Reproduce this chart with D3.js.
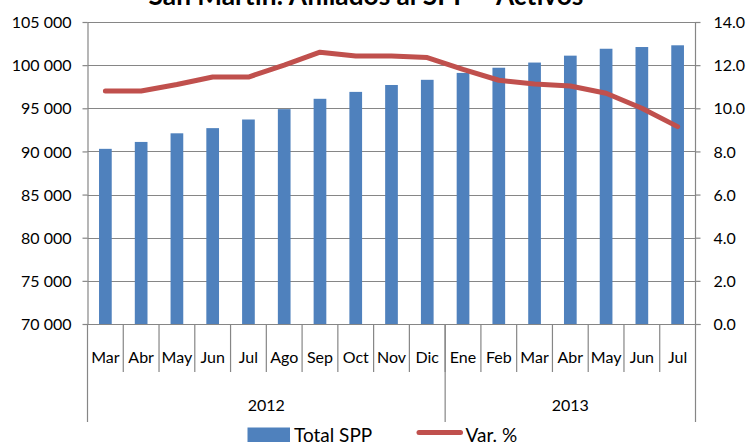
<!DOCTYPE html>
<html>
<head>
<meta charset="utf-8">
<script src="https://cdn.jsdelivr.net/npm/d3@7"></script>
<style>
  body { margin: 0; background: #fff; }
  #chart { width: 748px; height: 442px; }
  text { font-family: Lato, "Open Sans", sans-serif; fill: #000; }
</style>
</head>
<body>
<div id="chart"></div>
<script>
//Datos
const meses = ['Mar','Abr','May','Jun','Jul','Ago','Sep','Oct','Nov','Dic','Ene','Feb','Mar','Abr','May','Jun','Jul'];
const anios = ['2012','2012','2012','2012','2012','2012','2012','2012','2012','2012','2013','2013','2013','2013','2013','2013','2013'];
const totalSPP = [90300, 91100, 92100, 92700, 93700, 94900, 96100, 96900, 97700, 98300, 99100, 99700, 100300, 101100, 101900, 102100, 102300];
const varPct = [10.8, 10.8, 11.1, 11.45, 11.45, 12.0, 12.6, 12.42, 12.42, 12.35, 11.8, 11.3, 11.13, 11.03, 10.7, 10.0, 9.15];
const ticksIzq = [70000, 75000, 80000, 85000, 90000, 95000, 100000, 105000];
const ticksDer = [0, 2, 4, 6, 8, 10, 12, 14];

const COLOR_BARRA = '#4F81BD', COLOR_LINEA = '#C0504D', COLOR_EJE = '#868686';

let margin = {top: 22, right: 52.5, bottom: 118, left: 87.5},
    width = 748 - margin.left - margin.right,
    height = 442 - margin.top - margin.bottom;

let svg = d3.select('#chart').append('svg')
    .attr('width', 748).attr('height', 442);

let g = svg.append('g')
    .attr('transform', 'translate(' + margin.left + ',' + margin.top + ')');

let x = d3.scaleBand().domain(d3.range(meses.length)).range([0, width]).paddingInner(0).paddingOuter(0);
let y = d3.scaleLinear().domain([70000, 105000]).range([height, 0]);
let y2 = d3.scaleLinear().domain([0, 14]).range([height, 0]);

let fmt = d => d3.format(',')(d).replace(',', ' ');

//Rejilla
g.append('g').selectAll('line').data(ticksIzq.slice(1)).enter().append('line')
    .attr('x1', 0).attr('x2', width)
    .attr('y1', d => Math.round(y(d)) + 0.5).attr('y2', d => Math.round(y(d)) + 0.5)
    .attr('stroke', COLOR_EJE).attr('stroke-width', 1.2);

//Eje izquierdo
let ejeIzq = g.append('g').call(d3.axisLeft(y).tickValues(ticksIzq).tickFormat(fmt).tickSize(5).tickPadding(11));
ejeIzq.select('.domain').attr('stroke', COLOR_EJE).attr('stroke-width', 1.2).attr('d', 'M0.5,0V' + height);
ejeIzq.selectAll('.tick line').attr('stroke', COLOR_EJE).attr('stroke-width', 1.2);
ejeIzq.selectAll('text').style('font-size', '16px').attr('dy', '0.35em');

//Eje derecho
let ejeDer = g.append('g').attr('transform', 'translate(' + width + ',0)')
    .call(d3.axisRight(y2).tickValues(ticksDer).tickFormat(d3.format('.1f')).tickSize(5).tickPadding(13));
ejeDer.select('.domain').attr('stroke', COLOR_EJE).attr('stroke-width', 1.2).attr('d', 'M0,0V' + height);
ejeDer.selectAll('.tick line').attr('stroke', COLOR_EJE).attr('stroke-width', 1.2);
ejeDer.selectAll('text').style('font-size', '16px').attr('dy', '0.35em');

//Barras
let bw = x.bandwidth() * 0.355;
g.append('g').selectAll('rect').data(totalSPP).enter().append('rect')
    .attr('x', (d, i) => x(i) + x.bandwidth() / 2 - bw / 2)
    .attr('y', d => y(d))
    .attr('width', bw)
    .attr('height', d => height - y(d))
    .attr('fill', COLOR_BARRA);

//Línea
let linea = d3.line().x((d, i) => x(i) + x.bandwidth() / 2).y(d => y2(d));
g.append('path').datum(varPct)
    .attr('d', linea)
    .attr('fill', 'none').attr('stroke', COLOR_LINEA).attr('stroke-width', 5)
    .attr('stroke-linejoin', 'round').attr('stroke-linecap', 'round');

//Eje horizontal
g.append('line').attr('x1', 0).attr('x2', width + 5).attr('y1', height + 0.5).attr('y2', height + 0.5)
    .attr('stroke', COLOR_EJE).attr('stroke-width', 1.2);

let ejeX = g.append('g').attr('transform', 'translate(0,' + height + ')');
//separadores de meses
ejeX.selectAll('.sep').data(d3.range(1, meses.length)).enter().append('line')
    .attr('x1', i => x(i)).attr('x2', i => x(i))
    .attr('y1', 0).attr('y2', 48)
    .attr('stroke', COLOR_EJE).attr('stroke-width', 1.2);
//separadores de años
let cortes = [0, anios.indexOf('2013'), meses.length];
ejeX.selectAll('.sepAnio').data(cortes).enter().append('line')
    .attr('x1', i => i === meses.length ? width : x(i)).attr('x2', i => i === meses.length ? width : x(i))
    .attr('y1', 0).attr('y2', 98)
    .attr('stroke', COLOR_EJE).attr('stroke-width', 1.2);
ejeX.selectAll('.mes').data(meses).enter().append('text')
    .attr('x', (d, i) => x(i) + x.bandwidth() / 2).attr('y', 39)
    .attr('text-anchor', 'middle').style('font-size', '16px')
    .text(d => d);
let grupos = ['2012', '2013'];
ejeX.selectAll('.anio').data(grupos).enter().append('text')
    .attr('x', (d, k) => {
        let a = k === 0 ? 0 : x(cortes[1]);
        let b = k === 0 ? x(cortes[1]) : width;
        return (a + b) / 2;
    })
    .attr('y', 87).attr('text-anchor', 'middle').style('font-size', '16px')
    .text(d => d);

//Título
let titulo = svg.append('text').attr('x', 366).attr('y', 5)
    .attr('text-anchor', 'middle').style('font-size', '22px').style('font-weight', 'bold')
    .text('San Martín: Afiliados al SPP – Activos');
let tw = titulo.node().getComputedTextLength();
titulo.style('font-size', (22 * 435 / tw) + 'px');

//Leyenda
let ley = svg.append('g');
ley.append('rect').attr('x', 247.5).attr('y', 427.5).attr('width', 42.5).attr('height', 16).attr('fill', COLOR_BARRA);
ley.append('text').attr('x', 294).attr('y', 441.5).style('font-size', '19px').text('Total SPP');
ley.append('line').attr('x1', 419).attr('x2', 460.5).attr('y1', 432.5).attr('y2', 432.5)
    .attr('stroke', COLOR_LINEA).attr('stroke-width', 5).attr('stroke-linecap', 'round');
ley.append('text').attr('x', 465.5).attr('y', 441.5).style('font-size', '19px').text('Var. %');
</script>
</body>
</html>
